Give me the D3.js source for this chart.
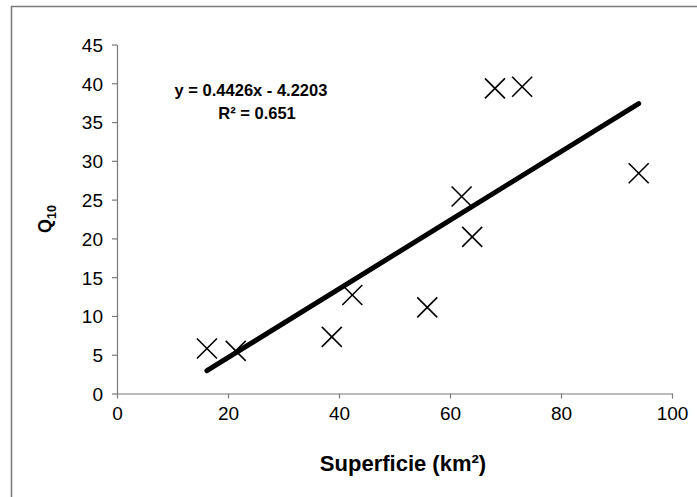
<!DOCTYPE html>
<html>
<head>
<meta charset="utf-8">
<script src="https://cdn.jsdelivr.net/npm/d3@7"></script>
<style>
  html, body { margin: 0; padding: 0; background: #fff; }
  svg { display: block; font-family: "Liberation Sans", Arial, sans-serif; }
</style>
</head>
<body>
<svg id="chart" width="697" height="497"></svg>
<script>
// Catchment area (km²) vs Q10 discharge
const superficie = [16.2, 21.4, 38.7, 42.4, 55.9, 62.1, 64.0, 68.1, 73.0, 94.0];
const q10 = [5.8, 5.5, 7.3, 12.7, 11.1, 25.4, 20.2, 39.35, 39.55, 28.4];

// Linear trendline coefficients
const slope = 0.4426;
const intercept = -4.2203;
const r2 = 0.651;

const xTicks = [0, 20, 40, 60, 80, 100];
const yTicks = [0, 5, 10, 15, 20, 25, 30, 35, 40, 45];

const svg = d3.select("#chart");

// Chart frame
svg.append("rect")
  .attr("x", 11.5).attr("y", 6.5)
  .attr("width", 700).attr("height", 500)
  .attr("fill", "#fff")
  .attr("stroke", "#7a7a7a")
  .attr("stroke-width", 1.5);

const x = d3.scaleLinear().domain([0, 100]).range([117, 672]);
const y = d3.scaleLinear().domain([0, 45]).range([393.5, 44.5]);

// Axes
const xAxis = svg.append("g")
  .attr("transform", `translate(0,${y(0)})`)
  .call(d3.axisBottom(x).tickValues(xTicks).tickSize(5).tickPadding(8).tickSizeOuter(0));
const yAxis = svg.append("g")
  .attr("transform", `translate(${x(0)},0)`)
  .call(d3.axisLeft(y).tickValues(yTicks).tickSize(5).tickPadding(9).tickSizeOuter(0));

[xAxis, yAxis].forEach(g => {
  g.select(".domain").attr("stroke", "#7a7a7a").attr("stroke-width", 1.2);
  g.selectAll(".tick line").attr("stroke", "#7a7a7a").attr("stroke-width", 1.2);
  g.selectAll(".tick text")
    .attr("fill", "#000")
    .style("font-family", "'Liberation Sans', Arial, sans-serif")
    .style("font-size", "19px");
});
yAxis.selectAll(".tick text").attr("dy", "0.36em");

// Trendline across the data range
const xMin = d3.min(superficie), xMax = d3.max(superficie);
svg.append("line")
  .attr("x1", x(xMin)).attr("y1", y(slope * xMin + intercept))
  .attr("x2", x(xMax)).attr("y2", y(slope * xMax + intercept))
  .attr("stroke", "#000")
  .attr("stroke-width", 5)
  .attr("stroke-linecap", "round");

// Cross markers
const half = 10;
const pts = superficie.map((d, i) => [d, q10[i]]);
const marks = svg.append("g").attr("stroke", "#000").attr("stroke-width", 1.6);
pts.forEach(([a, b]) => {
  const cx = x(a), cy = y(b);
  marks.append("line")
    .attr("x1", cx - half).attr("y1", cy - half)
    .attr("x2", cx + half).attr("y2", cy + half);
  marks.append("line")
    .attr("x1", cx - half).attr("y1", cy + half)
    .attr("x2", cx + half).attr("y2", cy - half);
});

// Equation and R²
const eq = svg.append("g")
  .style("font-weight", "bold")
  .style("font-size", "16.5px")
  .attr("text-anchor", "middle");
eq.append("text").attr("x", 251).attr("y", 96)
  .text(`y = ${slope}x - ${Math.abs(intercept)}`);
eq.append("text").attr("x", 257).attr("y", 119)
  .text(`R² = ${r2}`);

// Axis titles
svg.append("text")
  .attr("x", 403).attr("y", 471)
  .attr("text-anchor", "middle")
  .style("font-weight", "bold")
  .style("font-size", "22px")
  .text("Superficie (km²)");

const yt = svg.append("text")
  .attr("transform", `translate(51,${y(22.5)}) rotate(-90)`)
  .attr("text-anchor", "middle")
  .style("font-weight", "bold")
  .style("font-size", "18px");
yt.append("tspan").text("Q");
yt.append("tspan").attr("dy", 5).style("font-size", "12.5px").text("10");
</script>
</body>
</html>
